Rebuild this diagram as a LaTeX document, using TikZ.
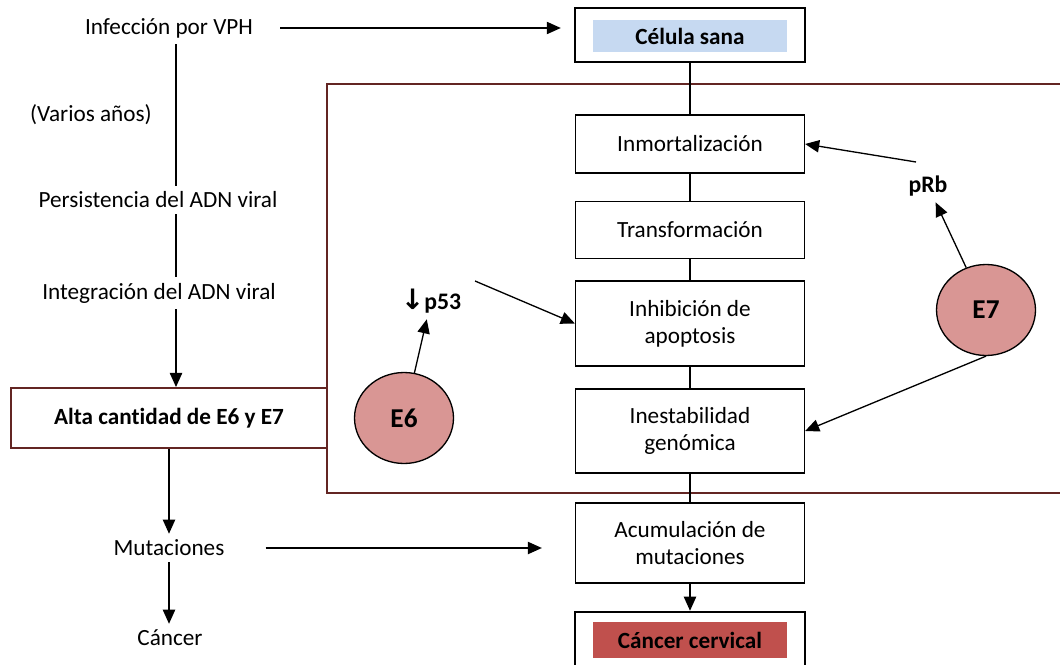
\documentclass[tikz,border=0pt]{standalone}
\usepackage{fontspec}
\setmainfont{Carlito}[Ligatures=NoCommon]
\newfontfamily\flechafont{DejaVu Sans}
\usetikzlibrary{arrows.meta,shapes.geometric}
\definecolor{marco}{HTML}{632523}
\definecolor{sana}{HTML}{C6D9F1}
\definecolor{cancer}{HTML}{C0504D}
\definecolor{virus}{HTML}{D99694}

\begin{document}
\begin{tikzpicture}[x=0.02cm,y=-0.02cm,
        font=\fontsize{13.2}{15.3}\selectfont,
        paso/.style={draw,line width=0.75pt,minimum width=4.58cm,align=center},
        extremo/.style={draw,line width=1.4pt,minimum width=4.6cm},
        rotulo/.style={font=\fontsize{13.2}{15.3}\selectfont\bfseries},
        proteina/.style={ellipse,draw,line width=0.75pt,fill=virus,minimum width=1.98cm,minimum height=1.82cm,font=\fontsize{15.5}{18}\selectfont\bfseries},
        flecha/.style={-{Triangle[length=8pt,width=7pt]},line width=0.75pt}]
    \useasboundingbox (0,0) rectangle (1060,665);
    \draw[marco,line width=1.1pt] (327,84) rectangle (1075,493);

    \node[extremo,minimum height=1.08cm] (cel) at (690,35) {};
    \node[rotulo,fill=sana,minimum width=3.9cm,minimum height=0.64cm] (celtxt) at (690,36) {Célula sana};
    \node[paso,minimum height=1.16cm] (inm) at (690,144) {Inmortalización};
    \node[paso,minimum height=1.14cm] (trans) at (690,230) {Transformación};
    \node[paso,minimum height=1.7cm] (inh) at (690,323.5) {Inhibición de\\apoptosis};
    \node[paso,minimum height=1.68cm] (inest) at (690,431) {Inestabilidad\\genómica};
    \node[paso,minimum height=1.6cm] (acum) at (690,543) {Acumulación de\\mutaciones};
    \node[extremo,minimum height=1.2cm] (cc) at (690,642) {};
    \node[rotulo,fill=cancer,minimum width=3.9cm,minimum height=0.72cm] (cctxt) at (690,640) {Cáncer cervical};

    \node (inf) at (169,28) {Infección por VPH};
    \node (varios) at (91,115) {(Varios años)};
    \node (pers) at (158,200) {Persistencia del ADN viral};
    \node (integ) at (159,293) {Integración del ADN viral};
    \node[rotulo,draw=marco,line width=1.1pt,minimum width=6.32cm,minimum height=1.2cm] (alta) at (169,418) {Alta cantidad de E6 y E7};
    \node (mut) at (169,548) {Mutaciones};
    \node (canc) at (170,638) {Cáncer};

    \node[proteina] (e6) at (404,418) {E6};
    \node[proteina] (e7) at (986,310) {E7};
    \node[font=\fontsize{13.5}{16}\selectfont\bfseries] (p53) at (431,301) {{\flechafont\fontsize{16}{16}\selectfont ↓}p53};
    \node[font=\fontsize{13.5}{16}\selectfont\bfseries] (prb) at (928,186) {pRb};

    \coordinate (eje) at (176,0);
    \coordinate (p53cola) at (475,281);
    \coordinate (prbcola) at (916,162);

    \draw[flecha,shorten <=0.42cm,shorten >=0.26cm] (inf.east) -- (inf.east -| cel.west);
    \draw[line width=0.75pt] (inf.south -| eje) -- (pers.north -| eje) (pers.south -| eje) -- (integ.north -| eje);
    \draw[flecha] (integ.south -| eje) -- (alta.north -| eje);
    \draw[flecha] (alta.south -| mut) -- (mut.north);
    \draw[flecha] (mut.south) -- (mut.south |- canc.north);
    \draw[flecha,shorten <=0.7cm,shorten >=0.66cm] (mut.east) -- (mut.east -| acum.west);

    \draw[line width=0.75pt] (cel) -- (inm) (inm) -- (trans) (trans) -- (inh) (inh) -- (inest) (inest) -- (acum);
    \draw[flecha] (acum) -- (cc);

    \draw[flecha] (e6) -- (p53);
    \draw[flecha] (p53cola) -- (inh.west);
    \draw[flecha] (e7) -- (prb);
    \draw[flecha] (prbcola) -- (inm.east);
    \draw[flecha] (e7.south) -- (inest.east);
\end{tikzpicture}
\end{document}
